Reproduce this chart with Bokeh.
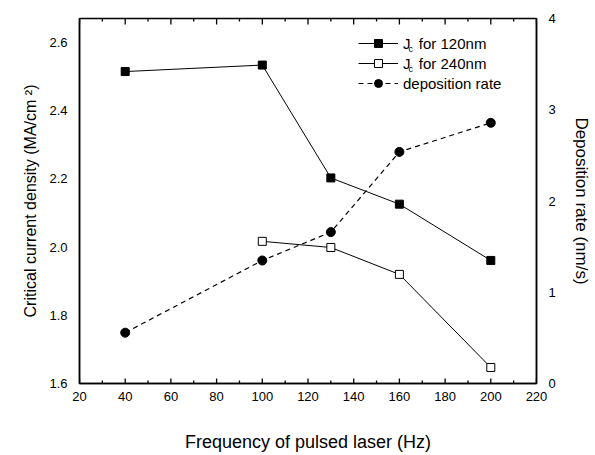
from bokeh.plotting import figure
from bokeh.models import (LinearAxis, Range1d, FixedTicker, Legend, LegendItem, Label,
                          PrintfTickFormatter)
from bokeh.embed import file_html
from bokeh.resources import INLINE

# ---- data ----
freq_120 = [40, 100, 130, 160, 200]
jc_120 = [2.515, 2.534, 2.203, 2.126, 1.961]
freq_240 = [100, 130, 160, 200]
jc_240 = [2.017, 1.999, 1.920, 1.647]
freq_rate = [40, 100, 130, 160, 200]
dep_rate = [0.557, 1.348, 1.659, 2.538, 2.857]

x_ticks = [20, 40, 60, 80, 100, 120, 140, 160, 180, 200, 220]
x_minor = [30, 50, 70, 90, 110, 130, 150, 170, 190, 210]
yl_ticks = [1.6, 1.8, 2.0, 2.2, 2.4, 2.6]
yl_minor = [1.7, 1.9, 2.1, 2.3, 2.5]
yr_ticks = [0, 1, 2, 3, 4]
yr_minor = [0.5, 1.5, 2.5, 3.5]

FONT = "Liberation Sans"
X0, X1 = 20, 220
Y0, Y1 = 1.6, 2.6706
R0, R1 = 0, 4
FW, FH = 457, 365  # frame size in px

p = figure(width=595, height=455, output_backend="svg", toolbar_location=None,
           x_range=Range1d(X0, X1), y_range=Range1d(Y0, Y1),
           min_border_left=79, min_border_right=59, min_border_top=18, min_border_bottom=72,
           x_axis_type=None, y_axis_type=None)
p.extra_y_ranges = {"rate": Range1d(R0, R1)}
p.xgrid.visible = False
p.ygrid.visible = False
p.outline_line_color = "black"
p.outline_line_width = 1.5

def style(ax):
    ax.axis_line_width = 1.5
    ax.axis_line_color = "black"
    ax.major_tick_in = 0
    ax.major_tick_out = 0
    ax.minor_tick_in = 0
    ax.minor_tick_out = 0
    ax.major_label_text_font = FONT
    ax.major_label_text_font_size = "13px"
    ax.major_label_text_color = "black"
    ax.axis_label_text_font = FONT
    ax.axis_label_text_font_style = "normal"
    ax.axis_label_text_color = "black"

xb = LinearAxis(ticker=FixedTicker(ticks=x_ticks, minor_ticks=x_minor),
                axis_label="Frequency of pulsed laser (Hz)")
style(xb)
xb.axis_label_text_font_size = "18px"
xb.major_label_standoff = 8
xb.axis_label_standoff = 28
p.add_layout(xb, "below")

yl = LinearAxis(ticker=FixedTicker(ticks=yl_ticks, minor_ticks=yl_minor),
                formatter=PrintfTickFormatter(format="%.1f"),
                axis_label="Critical current density (MA/cm \u00b2)")
style(yl)
yl.axis_label_text_font_size = "16px"
yl.major_label_standoff = 12
yl.axis_label_standoff = 7
p.add_layout(yl, "left")

yr = LinearAxis(y_range_name="rate", ticker=FixedTicker(ticks=yr_ticks, minor_ticks=yr_minor),
                axis_label="Deposition rate (nm/s)")
style(yr)
yr.axis_label_text_font_size = "17px"
yr.major_label_standoff = 12
yr.axis_label_standoff = 13
p.add_layout(yr, "right")

# ---- tick marks drawn as short lines from the tick lists ----
xpx = (X1 - X0) / FW
ypx = (Y1 - Y0) / FH
rpx = (R1 - R0) / FH
TLW = 1.3

for t in x_ticks:
    p.line([t, t], [Y0 - 3 * ypx, Y0 + 5 * ypx], line_color="black", line_width=TLW)
    p.line([t, t], [Y1 - 6 * ypx, Y1], line_color="black", line_width=TLW)
for t in x_minor:
    p.line([t, t], [Y0, Y0 + 3 * ypx], line_color="black", line_width=TLW)
    p.line([t, t], [Y1 - 3 * ypx, Y1], line_color="black", line_width=TLW)
for t in yl_ticks:
    p.line([X0 - 6 * xpx, X0], [t, t], line_color="black", line_width=TLW)
for t in yl_minor:
    p.line([X0 - 3 * xpx, X0], [t, t], line_color="black", line_width=TLW)
for t in yr_ticks:
    p.line([X1, X1 + 6 * xpx], [t, t], y_range_name="rate", line_color="black", line_width=TLW)
for t in yr_minor:
    p.line([X1, X1 + 3 * xpx], [t, t], y_range_name="rate", line_color="black", line_width=TLW)

# ---- series ----
l1 = p.line(freq_120, jc_120, line_color="black", line_width=1)
m1 = p.scatter(freq_120, jc_120, marker="square", size=8, fill_color="black", line_color="black")
l2 = p.line(freq_240, jc_240, line_color="black", line_width=1)
m2 = p.scatter(freq_240, jc_240, marker="square", size=8, fill_color="white", line_color="black")
l3 = p.line(freq_rate, dep_rate, y_range_name="rate", line_color="black", line_width=1.2, line_dash="5 4")
m3 = p.scatter(freq_rate, dep_rate, y_range_name="rate", marker="circle", size=9,
               fill_color="black", line_color="black")

legend = Legend(items=[
    LegendItem(label="J  for 120nm", renderers=[l1, m1]),
    LegendItem(label="J  for 240nm", renderers=[l2, m2]),
    LegendItem(label="deposition rate", renderers=[l3, m3]),
], location=(279, 290))
legend.border_line_color = None
legend.background_fill_alpha = 0
legend.glyph_width = 40
legend.glyph_height = 20
legend.label_height = 20
legend.label_standoff = 5
legend.spacing = 0
legend.padding = 0
legend.margin = 0
legend.label_text_font = FONT
legend.label_text_font_size = "15px"
legend.label_text_color = "black"
p.add_layout(legend, "center")

for yy in (335, 315):
    p.add_layout(Label(x=329, y=yy, x_units="screen", y_units="screen", text="c",
                       text_font=FONT, text_font_size="9px", text_color="black",
                       text_baseline="middle"))

open("out.html", "w").write(file_html(p, INLINE))
